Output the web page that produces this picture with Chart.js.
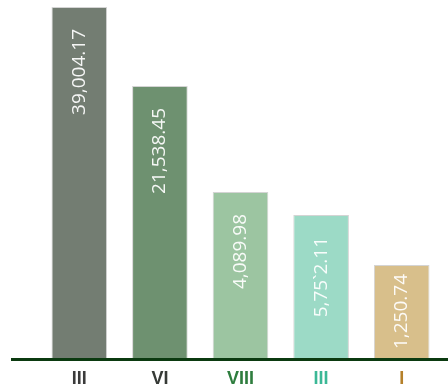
<!DOCTYPE html>
<html>
<head>
<meta charset="utf-8">
<script src="https://cdn.jsdelivr.net/npm/chart.js@4.4.1/dist/chart.umd.min.js"></script>
<style>
  html, body { margin: 0; padding: 0; background: #ffffff; }
  #wrap { width: 448px; height: 390px; position: relative; }
</style>
</head>
<body>
<div id="wrap"><canvas id="barChart"></canvas></div>
<script>
// Chart data
const categories = ['III', 'VI', 'VIII', 'III', 'I'];
const barValues = [351, 272, 166, 143, 93];
const valueLabels = ['39,004.17', '21,538.45', '4,089.98', '5,75`2.11', '1,250.74'];
const barColors = ['#737d72', '#6e9170', '#9cc5a1', '#9cdac6', '#d8bf8b'];
const tickColors = ['#3b3b3b', '#363a36', '#2e7d3e', '#3bb896', '#b5802a'];

// Draws the value text rotated inside each bar, near its top
const valueLabelPlugin = {
    id: 'valueLabels',
    afterDatasetsDraw(chart) {
        const ctx = chart.ctx;
        const meta = chart.getDatasetMeta(0);
        ctx.save();
        ctx.font = '19px "Open Sans"';
        ctx.fillStyle = 'rgba(255,255,255,0.93)';
        ctx.textAlign = 'right';
        ctx.textBaseline = 'middle';
        meta.data.forEach(function(bar, i) {
            const len = ctx.measureText(valueLabels[i]).width;
            const room = (bar.base - bar.y - len) / 2;
            const offset = Math.max(4, Math.min(22, room));
            ctx.save();
            ctx.translate(bar.x, bar.y + offset);
            ctx.rotate(-Math.PI / 2);
            ctx.fillText(valueLabels[i], 0, 0);
            ctx.restore();
        });
        ctx.restore();
    }
};

// Dark baseline across the full width
const baselinePlugin = {
    id: 'baseline',
    afterDatasetsDraw(chart) {
        const ctx = chart.ctx;
        const y = chart.scales.y.getPixelForValue(0);
        ctx.save();
        ctx.strokeStyle = '#0b3a10';
        ctx.lineWidth = 3;
        ctx.beginPath();
        ctx.moveTo(11, y + 1.5);
        ctx.lineTo(chart.width, y + 1.5);
        ctx.stroke();
        ctx.restore();
    }
};

new Chart(document.getElementById('barChart'), {
    type: 'bar',
    data: {
        labels: categories,
        datasets: [{
            data: barValues,
            backgroundColor: barColors,
            borderColor: '#d4d4d4',
            borderWidth: 1,
            borderSkipped: 'bottom',
            categoryPercentage: 1,
            barPercentage: 0.69
        }]
    },
    options: {
        responsive: true,
        maintainAspectRatio: false,
        animation: false,
        layout: { padding: { left: 39, right: 6, top: 7, bottom: 0 } },
        plugins: {
            legend: { display: false },
            tooltip: { enabled: false }
        },
        scales: {
            x: {
                grid: { display: false, drawTicks: false },
                border: { display: false },
                ticks: {
                    padding: 10,
                    color: tickColors,
                    font: { family: '"Liberation Sans", Arial, sans-serif', size: 18, weight: 'bold' }
                },
                afterFit: function(scale) { scale.height = 32; }
            },
            y: {
                display: false,
                min: 0,
                max: 351
            }
        }
    },
    plugins: [valueLabelPlugin, baselinePlugin]
});
</script>
</body>
</html>
